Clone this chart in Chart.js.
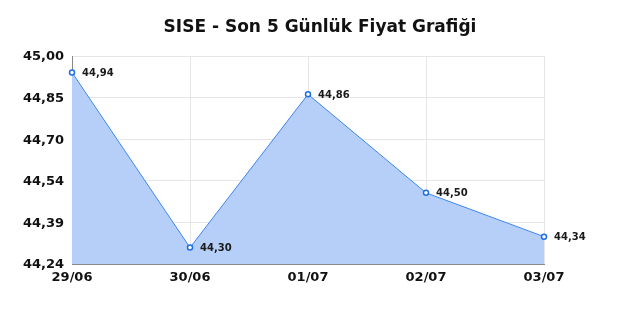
<!DOCTYPE html>
<html><head><meta charset="utf-8">
<script src="https://cdn.jsdelivr.net/npm/chart.js@4"></script>
<style>html,body{margin:0;padding:0;background:#fff}canvas{display:block}</style>
</head><body>
<canvas id="c" width="640" height="320"></canvas>
<script>
const titleText = 'SISE - Son 5 Günlük Fiyat Grafiği';
const categories = ['29/06', '30/06', '01/07', '02/07', '03/07'];
const prices = [44.94, 44.30, 44.86, 44.50, 44.34];
const yTicks = [44.24, 44.392, 44.544, 44.696, 44.848, 45.00];

const fmt = v => v.toFixed(2).replace('.', ',');

const pointLabels = {
  id: 'pointLabels',
  afterDatasetsDraw(chart) {
    const ctx = chart.ctx;
    const meta = chart.getDatasetMeta(0);
    ctx.save();
    ctx.font = 'bold 10px "DejaVu Sans"';
    ctx.fillStyle = '#1a1a1a';
    ctx.textAlign = 'left';
    ctx.textBaseline = 'middle';
    meta.data.forEach((pt, i) => {
      ctx.fillText(fmt(prices[i]), pt.x + 10, pt.y + 1);
    });
    ctx.restore();
  }
};

new Chart(document.getElementById('c'), {
  type: 'line',
  data: {
    labels: categories,
    datasets: [{
      data: prices,
      borderColor: '#3f86f0',
      borderWidth: 1,
      backgroundColor: '#b6cff8',
      fill: 'start',
      tension: 0,
      pointRadius: 2.5,
      pointBorderWidth: 1.5,
      pointBorderColor: '#1f6fe8',
      pointBackgroundColor: '#ffffff'
    }]
  },
  options: {
    responsive: false,
    animation: false,
    layout: { padding: 0 },
    plugins: {
      legend: { display: false },
      tooltip: { enabled: false },
      title: {
        display: true,
        text: titleText,
        color: '#111',
        font: { family: '"DejaVu Sans"', size: 17, weight: 'bold' },
        padding: { top: 17.8, bottom: 17.8 }
      }
    },
    scales: {
      x: {
        offset: false,
        grid: { color: '#e6e6e6', drawTicks: false },
        border: { color: '#888', width: 1 },
        ticks: {
          color: '#111',
          font: { family: '"DejaVu Sans"', size: 13, weight: 'bold' },
          padding: 6,
          maxRotation: 0
        },
        afterFit(s) { s.height = 56; }
      },
      y: {
        min: 44.24,
        max: 45.00,
        grid: { color: '#e6e6e6', drawTicks: false },
        border: { color: '#888', width: 1 },
        afterBuildTicks(s) { s.ticks = yTicks.map(v => ({ value: v })); },
        ticks: {
          color: '#111',
          font: { family: '"DejaVu Sans"', size: 13, weight: 'bold' },
          padding: 8,
          labelOffset: 1,
          callback: v => fmt(v)
        },
        afterFit(s) { s.width = 72; }
      },
      yRight: {
        position: 'right',
        display: true,
        grid: { display: false, drawTicks: false },
        border: { display: false },
        ticks: { display: false },
        afterFit(s) { s.width = 96; }
      }
    }
  },
  plugins: [pointLabels]
});
</script>
</body></html>
